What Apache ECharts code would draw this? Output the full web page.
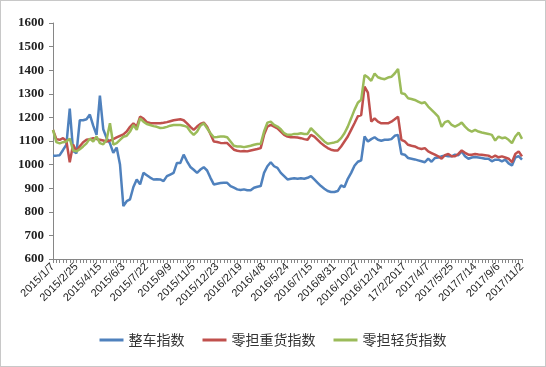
<!DOCTYPE html>
<html><head><meta charset="utf-8">
<script src="https://cdn.jsdelivr.net/npm/echarts@6/dist/echarts.min.js"></script>
<style>
html,body{margin:0;padding:0;background:#fff;}
#c{width:546px;height:367px;box-sizing:border-box;border:1px solid #c8c8c8;}
</style></head>
<body><div id="c"></div>
<script>
// Tick labels shown every 7th weekly point
const xLabels = ['2015/1/7','2015/2/25','2015/4/15','2015/6/3','2015/7/22','2015/9/9','2015/11/5','2015/12/23','2016/2/19','2016/4/8','2016/5/24','2016/7/15','2016/8/31','2016/10/27','2016/12/14','17/2/2017','2017/4/7','2017/5/25','2017/7/14','2017/9/6','2017/11/2'];
const seriesNames = ['整车指数','零担重货指数','零担轻货指数'];

const truckload = [
1038,1038,1040,1062,1085,1237,1058,1048,1188,1188,
1192,1212,1165,1126,1292,1150,1112,1090,1050,1072,
1000,824,845,853,905,937,916,965,955,945,
937,938,937,930,951,958,965,1007,1007,1042,
1014,990,978,965,979,989,975,944,916,919,
922,923,923,909,902,895,892,895,891,891,
902,906,909,965,993,1010,993,986,965,951,
937,940,942,940,942,940,944,951,937,923,
909,898,888,884,884,888,912,905,940,965,
995,1012,1018,1119,1098,1108,1116,1105,1101,1105,
1105,1108,1122,1126,1045,1042,1028,1025,1022,1018,
1014,1010,1025,1012,1028,1030,1035,1038,1035,1035,
1042,1040,1056,1035,1025,1030,1032,1030,1028,1025,
1025,1014,1021,1021,1014,1021,1005,996,1030,1036,
1021];

const ltlHeavy = [
1147,1108,1105,1112,1100,1010,1085,1056,1078,1095,
1105,1108,1112,1108,1105,1102,1098,1102,1108,1115,
1122,1128,1140,1160,1175,1161,1203,1195,1180,1176,
1175,1175,1175,1177,1180,1184,1188,1190,1192,1188,
1175,1160,1147,1161,1172,1178,1160,1130,1098,1096,
1092,1091,1091,1077,1063,1059,1056,1058,1056,1060,
1063,1066,1070,1126,1161,1168,1161,1154,1140,1126,
1119,1116,1116,1115,1112,1108,1105,1126,1119,1105,
1091,1080,1070,1063,1060,1060,1077,1098,1119,1147,
1175,1205,1210,1330,1305,1182,1196,1182,1175,1175,
1175,1182,1192,1203,1105,1098,1084,1080,1077,1070,
1066,1070,1056,1049,1042,1035,1025,1040,1045,1035,
1035,1045,1060,1050,1042,1042,1045,1043,1042,1040,
1038,1030,1038,1031,1035,1030,1025,1010,1045,1056,
1035];

const ltlLight = [
1147,1095,1090,1095,1098,1110,1060,1056,1065,1077,
1090,1110,1098,1119,1091,1086,1105,1175,1085,1091,
1105,1118,1122,1140,1168,1147,1196,1182,1172,1168,
1163,1160,1155,1156,1160,1165,1168,1168,1168,1165,
1160,1140,1126,1140,1165,1175,1154,1133,1116,1117,
1119,1119,1116,1098,1080,1077,1077,1074,1077,1080,
1084,1087,1088,1140,1178,1182,1168,1161,1150,1133,
1126,1126,1130,1130,1133,1130,1130,1154,1140,1126,
1112,1098,1088,1091,1094,1098,1112,1133,1161,1196,
1232,1262,1275,1379,1370,1355,1386,1370,1365,1362,
1369,1372,1386,1405,1302,1299,1281,1278,1274,1267,
1260,1264,1246,1232,1218,1203,1160,1180,1185,1168,
1161,1168,1178,1161,1147,1140,1147,1140,1136,1133,
1130,1126,1102,1119,1112,1115,1105,1091,1119,1136,
1109];

const colors = ['#4F81BD','#C0504D','#9BBB59'];
const categories = truckload.map((_, i) => String(i));

const chart = echarts.init(document.getElementById('c'), null, {renderer:'canvas'});
const mk = (name, data, color) => ({
  name, type:'line', data, symbol:'none', smooth:false,
  lineStyle:{width:2.5, color}, itemStyle:{color}
});
chart.setOption({
  animation:false,
  grid:{left:52, right:23, top:22, bottom:107, containLabel:false},
  legend:{
    bottom:14, left:'center', icon:'rect', itemWidth:24, itemHeight:3, itemGap:18,
    textStyle:{fontFamily:'Noto Sans CJK SC', fontSize:14, color:'#333'},
    data:seriesNames
  },
  xAxis:{
    type:'category', data:categories, boundaryGap:false,
    axisLine:{lineStyle:{color:'#868686', width:1}},
    axisTick:{show:true, interval:0, length:4, lineStyle:{color:'#868686'}},
    axisLabel:{interval:6, rotate:45, margin:6, fontFamily:'Liberation Sans', fontSize:11, color:'#222',
      formatter:(v, idx) => (idx % 7 === 0 ? xLabels[idx/7] : '')},
    splitLine:{show:false}
  },
  yAxis:{
    type:'value', min:600, max:1600, interval:100,
    axisLine:{show:true, lineStyle:{color:'#868686', width:1}},
    axisTick:{show:true, length:4, lineStyle:{color:'#868686'}},
    axisLabel:{margin:9, fontFamily:'Liberation Serif', fontWeight:'bold', fontSize:13, color:'#222',
      formatter:(v) => String(v)},
    splitLine:{show:false}
  },
  series:[
    mk(seriesNames[0], truckload, colors[0]),
    mk(seriesNames[1], ltlHeavy, colors[1]),
    mk(seriesNames[2], ltlLight, colors[2])
  ]
});
</script></body></html>
